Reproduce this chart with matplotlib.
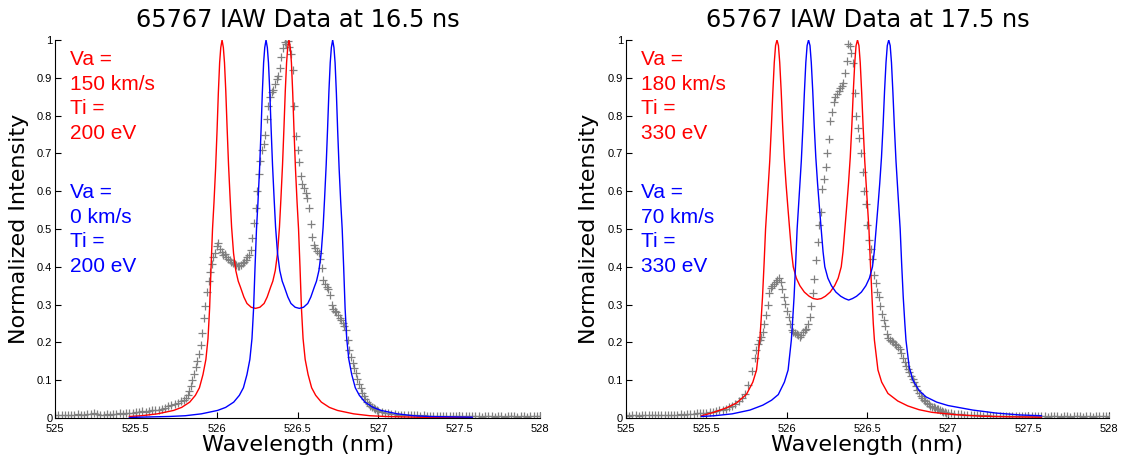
import numpy as np
import matplotlib.pyplot as plt

# Measured IAW spectrum, wavelength grid in nm (coarser in the wings)
wl_wing_blue = np.round(np.arange(525.00, 525.79, 0.02), 2)
wl_core = np.round(np.arange(525.80, 527.005, 0.01), 2)
wl_wing_red = np.round(np.arange(527.02, 528.005, 0.02), 2)

# Normalized intensity at 16.5 ns
i165_wing_blue = [
    0.008, 0.007, 0.009, 0.008, 0.007, 0.009, 0.008, 0.010, 0.009, 0.008,
    0.010, 0.011, 0.012, 0.010, 0.009, 0.009, 0.010, 0.009, 0.011, 0.010,
    0.012, 0.011, 0.013, 0.014, 0.013, 0.015, 0.016, 0.018, 0.017, 0.019,
    0.021, 0.020, 0.021, 0.023, 0.027, 0.031, 0.035, 0.037, 0.040, 0.044]
i165_core = [
    0.048, 0.054, 0.062, 0.072, 0.085, 0.100, 0.117, 0.135, 0.152, 0.170,
    0.193, 0.225, 0.265, 0.296, 0.333, 0.362, 0.386, 0.408, 0.425, 0.437,
    0.455, 0.462, 0.447, 0.440, 0.432, 0.434, 0.426, 0.420, 0.418, 0.414,
    0.410, 0.408, 0.404, 0.401, 0.403, 0.406, 0.409, 0.414, 0.419, 0.426,
    0.432, 0.445, 0.475, 0.515, 0.555, 0.600, 0.645, 0.680, 0.710, 0.725,
    0.748, 0.790, 0.826, 0.848, 0.862, 0.868, 0.884, 0.897, 0.905, 0.925,
    0.955, 0.978, 0.995, 0.990, 0.998, 0.982, 0.962, 0.920, 0.825, 0.745,
    0.709, 0.677, 0.640, 0.620, 0.608, 0.596, 0.582, 0.555, 0.512, 0.480,
    0.458, 0.450, 0.443, 0.436, 0.420, 0.398, 0.365, 0.355, 0.347, 0.342,
    0.325, 0.300, 0.289, 0.284, 0.280, 0.272, 0.265, 0.258, 0.252, 0.243,
    0.233, 0.206, 0.180, 0.162, 0.145, 0.133, 0.119, 0.104, 0.090, 0.079,
    0.067, 0.057, 0.050, 0.043, 0.036, 0.032, 0.029, 0.026, 0.023, 0.020,
    0.018]
i165_wing_red = [
    0.016, 0.013, 0.012, 0.011, 0.010, 0.009, 0.009, 0.008, 0.008, 0.007,
    0.008, 0.007, 0.006, 0.007, 0.006, 0.006, 0.005, 0.006, 0.005, 0.006,
    0.005, 0.004, 0.005, 0.005, 0.004, 0.005, 0.004, 0.005, 0.004, 0.005,
    0.004, 0.003, 0.004, 0.005, 0.004, 0.003, 0.004, 0.004, 0.003, 0.004,
    0.005, 0.004, 0.003, 0.004, 0.004, 0.003, 0.004, 0.005, 0.004, 0.004]

# Normalized intensity at 17.5 ns
i175_wing_blue = [
    0.007, 0.006, 0.008, 0.007, 0.006, 0.008, 0.007, 0.009, 0.008, 0.007,
    0.008, 0.007, 0.008, 0.009, 0.008, 0.009, 0.008, 0.010, 0.009, 0.010,
    0.011, 0.010, 0.012, 0.012, 0.013, 0.014, 0.015, 0.016, 0.018, 0.020,
    0.022, 0.025, 0.028, 0.032, 0.037, 0.044, 0.052, 0.064, 0.086, 0.125]
i175_core = [
    0.160, 0.180, 0.196, 0.207, 0.213, 0.228, 0.249, 0.272, 0.299, 0.330,
    0.343, 0.349, 0.355, 0.360, 0.365, 0.370, 0.360, 0.340, 0.320, 0.302,
    0.284, 0.268, 0.248, 0.232, 0.227, 0.225, 0.223, 0.219, 0.215, 0.220,
    0.227, 0.232, 0.236, 0.248, 0.267, 0.295, 0.330, 0.368, 0.418, 0.466,
    0.510, 0.545, 0.605, 0.632, 0.665, 0.700, 0.738, 0.785, 0.810, 0.836,
    0.850, 0.858, 0.864, 0.872, 0.879, 0.885, 0.912, 0.945, 0.990, 0.985,
    0.965, 0.938, 0.860, 0.800, 0.768, 0.742, 0.700, 0.650, 0.600, 0.567,
    0.510, 0.472, 0.448, 0.420, 0.378, 0.356, 0.334, 0.321, 0.297, 0.275,
    0.258, 0.244, 0.221, 0.212, 0.206, 0.203, 0.200, 0.197, 0.194, 0.189,
    0.182, 0.173, 0.160, 0.149, 0.138, 0.129, 0.121, 0.111, 0.102, 0.094,
    0.085, 0.075, 0.065, 0.058, 0.052, 0.047, 0.044, 0.040, 0.036, 0.033,
    0.030, 0.028, 0.026, 0.025, 0.023, 0.021, 0.019, 0.017, 0.016, 0.014,
    0.013]
i175_wing_red = [
    0.012, 0.011, 0.010, 0.010, 0.009, 0.008, 0.008, 0.007, 0.008, 0.007,
    0.006, 0.007, 0.006, 0.006, 0.005, 0.006, 0.005, 0.006, 0.005, 0.004,
    0.005, 0.005, 0.004, 0.005, 0.004, 0.005, 0.004, 0.004, 0.005, 0.004,
    0.003, 0.004, 0.005, 0.004, 0.003, 0.004, 0.004, 0.003, 0.004, 0.005,
    0.004, 0.003, 0.004, 0.004, 0.003, 0.004, 0.005, 0.004, 0.004, 0.003]

# Fitted form factors: [wavelength nm, normalized intensity]
fit165_red = np.array([
    [525.460, 0.004], [525.533, 0.006], [525.633, 0.011], [525.733, 0.020],
    [525.783, 0.028], [525.833, 0.042], [525.868, 0.060], [525.893, 0.080],
    [525.915, 0.115], [525.933, 0.155], [525.946, 0.210], [525.956, 0.290],
    [525.965, 0.400], [525.974, 0.500], [525.983, 0.570], [525.993, 0.660],
    [526.002, 0.760], [526.010, 0.860], [526.018, 0.940], [526.025, 0.980],
    [526.033, 1.000], [526.041, 0.980], [526.048, 0.940], [526.056, 0.865],
    [526.064, 0.770], [526.073, 0.670], [526.083, 0.580], [526.092, 0.505],
    [526.104, 0.436], [526.118, 0.390], [526.133, 0.362], [526.146, 0.347],
    [526.168, 0.320], [526.187, 0.303], [526.213, 0.293], [526.240, 0.290],
    [526.267, 0.293], [526.293, 0.303], [526.312, 0.320], [526.334, 0.347],
    [526.347, 0.362], [526.362, 0.390], [526.376, 0.436], [526.388, 0.505],
    [526.397, 0.580], [526.407, 0.670], [526.416, 0.770], [526.424, 0.865],
    [526.432, 0.940], [526.439, 0.980], [526.447, 1.000], [526.455, 0.980],
    [526.462, 0.940], [526.470, 0.860], [526.478, 0.760], [526.487, 0.660],
    [526.497, 0.570], [526.506, 0.500], [526.515, 0.400], [526.524, 0.290],
    [526.534, 0.210], [526.547, 0.155], [526.565, 0.115], [526.587, 0.080],
    [526.612, 0.060], [526.647, 0.042], [526.697, 0.028], [526.747, 0.020],
    [526.847, 0.011], [526.947, 0.006], [527.047, 0.004], [527.247, 0.002],
    [527.580, 0.001]])

fit165_blue = np.array([
    [525.460, 0.001], [525.505, 0.002], [525.705, 0.004], [525.805, 0.006],
    [525.905, 0.011], [526.005, 0.020], [526.055, 0.028], [526.105, 0.042],
    [526.140, 0.060], [526.165, 0.080], [526.187, 0.115], [526.205, 0.155],
    [526.218, 0.210], [526.228, 0.290], [526.237, 0.400], [526.246, 0.500],
    [526.255, 0.570], [526.265, 0.660], [526.274, 0.760], [526.282, 0.860],
    [526.290, 0.940], [526.297, 0.980], [526.305, 1.000], [526.313, 0.980],
    [526.320, 0.940], [526.328, 0.865], [526.336, 0.770], [526.345, 0.670],
    [526.355, 0.580], [526.364, 0.505], [526.376, 0.436], [526.390, 0.390],
    [526.405, 0.362], [526.418, 0.347], [526.440, 0.320], [526.459, 0.303],
    [526.485, 0.293], [526.511, 0.290], [526.537, 0.293], [526.563, 0.303],
    [526.582, 0.320], [526.604, 0.347], [526.617, 0.362], [526.632, 0.390],
    [526.646, 0.436], [526.658, 0.505], [526.667, 0.580], [526.677, 0.670],
    [526.686, 0.770], [526.694, 0.865], [526.702, 0.940], [526.709, 0.980],
    [526.717, 1.000], [526.725, 0.980], [526.732, 0.940], [526.740, 0.860],
    [526.748, 0.760], [526.757, 0.660], [526.767, 0.570], [526.776, 0.500],
    [526.785, 0.400], [526.794, 0.290], [526.804, 0.210], [526.817, 0.155],
    [526.835, 0.115], [526.857, 0.080], [526.882, 0.060], [526.917, 0.042],
    [526.967, 0.028], [527.017, 0.020], [527.117, 0.011], [527.217, 0.006],
    [527.317, 0.004], [527.580, 0.002]])

fit175_red = np.array([
    [525.470, 0.006], [525.538, 0.014], [525.625, 0.027], [525.688, 0.040],
    [525.749, 0.063], [525.788, 0.095], [525.811, 0.127], [525.831, 0.206],
    [525.838, 0.250], [525.848, 0.320], [525.858, 0.410], [525.867, 0.500],
    [525.875, 0.555], [525.883, 0.610], [525.893, 0.680], [525.903, 0.770],
    [525.912, 0.860], [525.921, 0.940], [525.929, 0.985], [525.938, 1.000],
    [525.947, 0.985], [525.955, 0.940], [525.964, 0.865], [525.973, 0.775],
    [525.983, 0.690], [525.994, 0.620], [526.005, 0.560], [526.017, 0.497],
    [526.028, 0.440], [526.039, 0.400], [526.058, 0.370], [526.080, 0.350],
    [526.108, 0.333], [526.138, 0.322], [526.163, 0.316], [526.188, 0.314],
    [526.213, 0.316], [526.238, 0.322], [526.268, 0.333], [526.296, 0.350],
    [526.318, 0.370], [526.337, 0.400], [526.348, 0.440], [526.359, 0.497],
    [526.371, 0.560], [526.382, 0.620], [526.393, 0.690], [526.403, 0.775],
    [526.412, 0.865], [526.421, 0.940], [526.429, 0.985], [526.438, 1.000],
    [526.447, 0.985], [526.455, 0.940], [526.464, 0.860], [526.473, 0.770],
    [526.483, 0.680], [526.493, 0.610], [526.501, 0.555], [526.509, 0.500],
    [526.518, 0.410], [526.528, 0.320], [526.536, 0.250], [526.543, 0.206],
    [526.565, 0.127], [526.588, 0.095], [526.627, 0.065], [526.688, 0.045],
    [526.750, 0.032], [526.820, 0.022], [526.900, 0.015], [527.040, 0.009],
    [527.200, 0.005], [527.400, 0.003], [527.580, 0.002]])

fit175_blue = np.array([
    [525.470, 0.004], [525.550, 0.006], [525.660, 0.011], [525.770, 0.021],
    [525.850, 0.034], [525.904, 0.047], [525.946, 0.062], [525.984, 0.095],
    [526.007, 0.127], [526.027, 0.206], [526.034, 0.250], [526.044, 0.320],
    [526.054, 0.410], [526.063, 0.500], [526.071, 0.555], [526.079, 0.610],
    [526.089, 0.680], [526.099, 0.770], [526.108, 0.860], [526.117, 0.940],
    [526.125, 0.985], [526.134, 1.000], [526.143, 0.985], [526.151, 0.940],
    [526.160, 0.865], [526.169, 0.775], [526.179, 0.690], [526.190, 0.620],
    [526.201, 0.560], [526.213, 0.497], [526.224, 0.440], [526.235, 0.400],
    [526.254, 0.370], [526.276, 0.350], [526.304, 0.333], [526.334, 0.322],
    [526.359, 0.316], [526.383, 0.312], [526.407, 0.316], [526.432, 0.322],
    [526.462, 0.333], [526.490, 0.350], [526.512, 0.370], [526.531, 0.400],
    [526.542, 0.440], [526.553, 0.497], [526.565, 0.560], [526.576, 0.620],
    [526.587, 0.690], [526.597, 0.775], [526.606, 0.865], [526.615, 0.940],
    [526.623, 0.985], [526.632, 1.000], [526.641, 0.985], [526.649, 0.940],
    [526.658, 0.860], [526.667, 0.770], [526.677, 0.680], [526.687, 0.610],
    [526.695, 0.555], [526.703, 0.500], [526.712, 0.410], [526.722, 0.320],
    [526.732, 0.250], [526.739, 0.206], [526.759, 0.135], [526.782, 0.100],
    [526.820, 0.073], [526.863, 0.056], [526.930, 0.042], [527.000, 0.033],
    [527.154, 0.021], [527.300, 0.013], [527.450, 0.008], [527.580, 0.006]])

xticks = [525, 525.5, 526, 526.5, 527, 527.5, 528]
xtick_labels = ['525', '525.5', '526', '526.5', '527', '527.5', '528']
yticks = [0, 0.1, 0.2, 0.3, 0.4, 0.5, 0.6, 0.7, 0.8, 0.9, 1]
ytick_labels = ['0', '0.1', '0.2', '0.3', '0.4', '0.5', '0.6', '0.7', '0.8', '0.9', '1']

wl = np.concatenate([wl_wing_blue, wl_core, wl_wing_red])
i165 = np.concatenate([i165_wing_blue, i165_core, i165_wing_red])
i175 = np.concatenate([i175_wing_blue, i175_core, i175_wing_red])

SANS = 'Liberation Sans'


def plot_iaw(ax, intensity, red_fit, blue_fit, red_text, blue_text, title):
    """Measured spectrum with two fitted IAW form factors"""
    ax.plot(wl, intensity, '+', color='#808080', ms=6, mew=0.9)
    ax.plot(red_fit[:, 0], red_fit[:, 1], color='red', lw=1.0)
    ax.plot(blue_fit[:, 0], blue_fit[:, 1], color='blue', lw=1.0)

    # fit parameters in the upper left corner
    ax.text(525.095, 0.851, red_text, color='red', fontsize=15, family=SANS,
            va='center', ha='left', linespacing=1.37)
    ax.text(525.095, 0.499, blue_text, color='blue', fontsize=15, family=SANS,
            va='center', ha='left', linespacing=1.37)

    ax.set_xlim(525, 528)
    ax.set_ylim(0, 1)
    ax.set_xticks(xticks)
    ax.set_xticklabels(xtick_labels, family=SANS, fontsize=8)
    ax.set_yticks(yticks)
    ax.set_yticklabels(ytick_labels, family=SANS, fontsize=8)
    ax.tick_params(direction='in', length=4, width=0.8)
    ax.tick_params(axis='x', pad=4)
    ax.tick_params(axis='y', pad=2)
    ax.spines['top'].set_visible(False)
    ax.spines['right'].set_visible(False)
    ax.set_title(title, fontsize=17.3, pad=9)
    ax.set_xlabel('Wavelength (nm)', fontsize=16, labelpad=1)
    ax.set_ylabel('Normalized Intensity', fontsize=16, labelpad=6)


fig = plt.figure(figsize=(11.21, 4.66), dpi=100)
ax1 = fig.add_axes([0.0491, 0.103, 0.4327, 0.8112])
ax2 = fig.add_axes([0.5584, 0.103, 0.4309, 0.8112])

plot_iaw(ax1, i165, fit165_red, fit165_blue,
         'Va =\n150 km/s\nTi =\n200 eV', 'Va =\n0 km/s\nTi =\n200 eV',
         '65767 IAW Data at 16.5 ns')
plot_iaw(ax2, i175, fit175_red, fit175_blue,
         'Va =\n180 km/s\nTi =\n330 eV', 'Va =\n70 km/s\nTi =\n330 eV',
         '65767 IAW Data at 17.5 ns')

fig.savefig('out.png', dpi=100)
